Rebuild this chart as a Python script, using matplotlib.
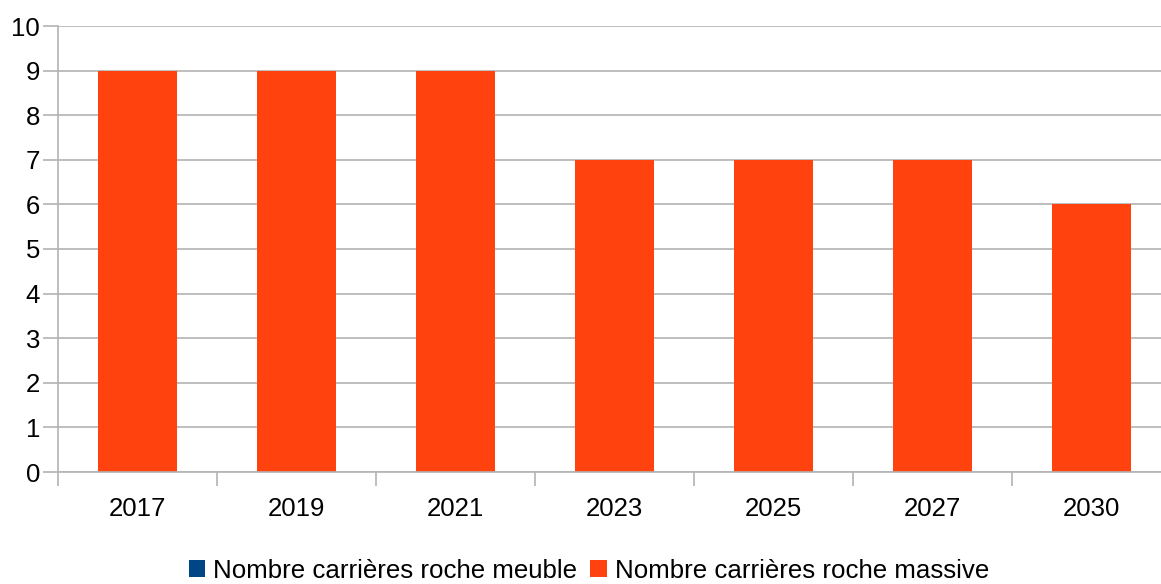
import matplotlib.pyplot as plt
import numpy as np

plt.rcParams["font.family"] = ["Liberation Sans", "DejaVu Sans"]

years = ["2017", "2019", "2021", "2023", "2025", "2027", "2030"]
roche_meuble = [0, 0, 0, 0, 0, 0, 0]
roche_massive = [9, 9, 9, 7, 7, 7, 6]

fig = plt.figure(figsize=(11.61, 5.84), dpi=100)
# plot area runs slightly past the right edge of the canvas
ax = fig.add_axes([58 / 1161, 112 / 584, 1113 / 1161, 446 / 584])

x = np.arange(len(years))
ax.bar(x, roche_meuble, width=0.5, color="#004586", label="Nombre carrières roche meuble")
ax.bar(x, roche_massive, width=0.5, bottom=roche_meuble, color="#ff420e",
       label="Nombre carrières roche massive")

ax.set_xlim(-0.5, len(years) - 0.5)
ax.set_ylim(0, 10)
ax.set_yticks(range(0, 11))
ax.yaxis.grid(True, color="#b3b3b3", linewidth=1.2)
ax.set_axisbelow(True)

# category labels centred, tick marks between categories
ax.set_xticks(x)
ax.set_xticklabels(years, fontsize=18.5)
ax.tick_params(axis="x", which="major", length=0, pad=18)
ax.set_xticks(np.arange(-0.5, len(years)), minor=True)
ax.tick_params(axis="x", which="minor", length=10, width=1.2, color="#b3b3b3")
ax.tick_params(axis="y", length=11, width=1.2, color="#b3b3b3", labelsize=18.5, pad=2)

for side in ["top", "right"]:
    ax.spines[side].set_visible(False)
for side in ["left", "bottom"]:
    ax.spines[side].set_color("#b3b3b3")
    ax.spines[side].set_linewidth(1.2)

fig.legend(loc="lower center", bbox_to_anchor=(0.507, -0.038), ncol=2, frameon=False,
           fontsize=18.6, handlelength=0.65, handleheight=0.65, handletextpad=0.3,
           columnspacing=0.5)

fig.savefig("out.png", dpi=100)
